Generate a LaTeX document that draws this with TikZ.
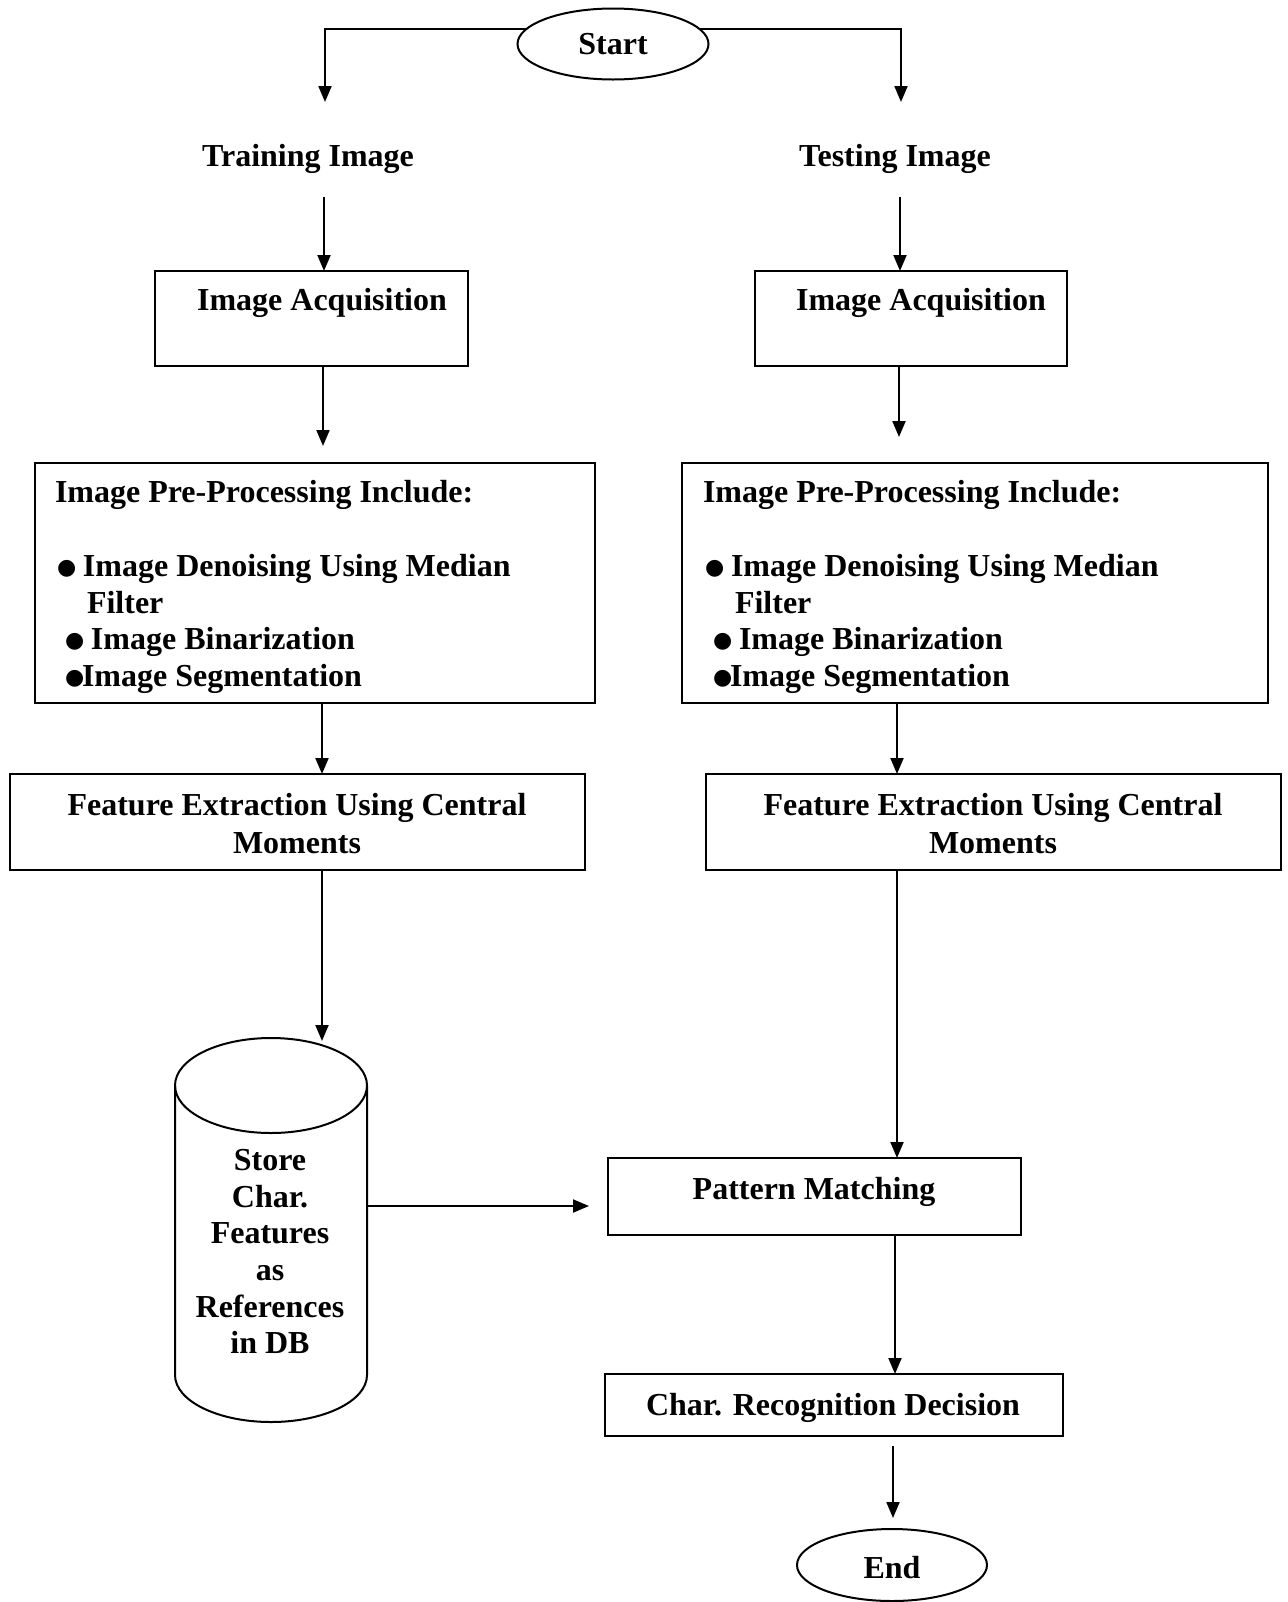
\documentclass[tikz,border=0pt]{standalone}
\usepackage{fontspec}
\setmainfont{Liberation Serif}
\newfontfamily\dejavu{DejaVu Sans}
\usetikzlibrary{arrows.meta,shapes.geometric}
\newcommand\pxu{0.5pt}
\newcommand\bul{\raisebox{1pt}{\dejavu\fontsize{11}{11}\selectfont ●}}
\begin{document}
\begin{tikzpicture}[x=0.5pt,y=-0.5pt,
  every node/.style={font=\bfseries\fontsize{16}{18.3}\selectfont, inner sep=0pt, outer sep=0pt},
  box/.style={draw, line width=1pt, rectangle},
  oval/.style={draw, line width=1pt, ellipse},
  lbl/.style={anchor=base},
  lline/.style={anchor=base west},
  arr/.style={line width=1pt, -{Triangle[width=6.5pt,length=8pt]}},
]
\useasboundingbox (0,0) rectangle (1287,1602);

% terminals
\node[oval, minimum width=191*\pxu, minimum height=71*\pxu] (start) at (613,44) {Start};
\node[oval, minimum width=190*\pxu, minimum height=72*\pxu] (end) at (892,1565) {};
\node[lbl] (endt) at (892,1578) {End};

% labels
\node[lbl] (trn) at (308,166) {Training Image};
\node[lbl] (tst) at (895,166) {Testing Image};

% image acquisition
\node[box, minimum width=313*\pxu, minimum height=95*\pxu] (ia1) at (311.5,318.5) {};
\node[box, minimum width=312*\pxu, minimum height=95*\pxu] (ia2) at (911,318.5) {};
\node[lbl] (ia1t) at (322,310) {Image Acquisition};
\node[lbl] (ia2t) at (921,310) {Image Acquisition};

% pre-processing
\node[box, minimum width=560*\pxu, minimum height=240*\pxu] (pp1) at (315,583) {};
\node[box, minimum width=586*\pxu, minimum height=240*\pxu] (pp2) at (975,583) {};
\node[lline] (pp1a) at (55,502) {Image Pre-Processing Include:};
\node[lline] (pp1b) at (57,576) {\makebox[13pt][l]{\bul}Image Denoising Using Median};
\node[lline] (pp1c) at (87,613) {Filter};
\node[lline] (pp1d) at (65,649) {\makebox[13pt][l]{\bul}Image Binarization};
\node[lline] (pp1e) at (65,686) {\makebox[8.5pt][l]{\bul}Image Segmentation};
\node[lline] (pp2a) at (703,502) {Image Pre-Processing Include:};
\node[lline] (pp2b) at (705,576) {\makebox[13pt][l]{\bul}Image Denoising Using Median};
\node[lline] (pp2c) at (735,613) {Filter};
\node[lline] (pp2d) at (713,649) {\makebox[13pt][l]{\bul}Image Binarization};
\node[lline] (pp2e) at (713,686) {\makebox[8.5pt][l]{\bul}Image Segmentation};

% feature extraction
\node[box, minimum width=575*\pxu, minimum height=96*\pxu] (fe1) at (297.5,822) {};
\node[box, minimum width=575*\pxu, minimum height=96*\pxu] (fe2) at (993.5,822) {};
\node[lbl] (fe1a) at (297,815) {Feature Extraction Using Central};
\node[lbl] (fe1b) at (297,853) {Moments};
\node[lbl] (fe2a) at (993,815) {Feature Extraction Using Central};
\node[lbl] (fe2b) at (993,853) {Moments};

% database cylinder
\draw[line width=1pt] (271,1085.5) ellipse [x radius=48pt, y radius=23.75pt];
\draw[line width=1pt] (175,1085.5) -- (175,1375)
  arc[start angle=180, end angle=360, x radius=48pt, y radius=23.5pt]
  -- (367,1085.5);
\coordinate (cylin) at (322,1041);
\coordinate (cylout) at (367,1206);
\node[lbl] (db1) at (270,1170) {Store};
\node[lbl] (db2) at (270,1207) {Char.};
\node[lbl] (db3) at (270,1243) {Features};
\node[lbl] (db4) at (270,1280) {as};
\node[lbl] (db5) at (270,1317) {References};
\node[lbl] (db6) at (270,1353) {in DB};

% matching and decision
\node[box, minimum width=413*\pxu, minimum height=77*\pxu] (pm) at (814.5,1196.5) {};
\node[lbl] (pmt) at (814,1199) {Pattern Matching};
\node[box, minimum width=458*\pxu, minimum height=62*\pxu] (crd) at (834,1405) {};
\node[lbl] (crdt) at (833,1415) {Char. Recognition Decision};

% free ends
\coordinate (c1) at (325,102);
\coordinate (c2) at (901,102);
\coordinate (c3) at (324,197);
\coordinate (c4) at (900,197);
\coordinate (c5) at (323,446);
\coordinate (c6) at (899,437);
\coordinate (x7) at (322,0);
\coordinate (x8) at (897,0);
\coordinate (c11) at (589,1206);
\coordinate (x12) at (895,0);
\coordinate (c13a) at (893,1446);
\coordinate (c13b) at (893,1518);

% connectors
\draw[arr] (start.170) -| (c1);
\draw[arr] (start.10) -| (c2);
\draw[arr] (c3) -- (c3 |- ia1.north);
\draw[arr] (c4) -- (c4 |- ia2.north);
\draw[arr] (c5 |- ia1.south) -- (c5);
\draw[arr] (c6 |- ia2.south) -- (c6);
\draw[arr] (x7 |- pp1.south) -- (x7 |- fe1.north);
\draw[arr] (x8 |- pp2.south) -- (x8 |- fe2.north);
\draw[arr] (x7 |- fe1.south) -- (cylin);
\draw[arr] (x8 |- fe2.south) -- (x8 |- pm.north);
\draw[arr] (cylout) -- (c11);
\draw[arr] (x12 |- pm.south) -- (x12 |- crd.north);
\draw[arr] (c13a) -- (c13b);
\end{tikzpicture}
\end{document}
